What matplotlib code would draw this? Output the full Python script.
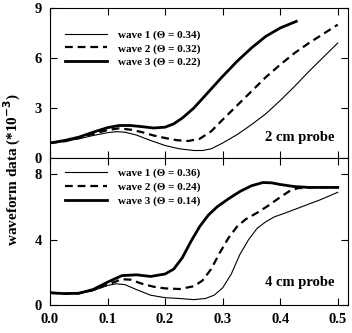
import numpy as np
import matplotlib
matplotlib.use("Agg")
import matplotlib.pyplot as plt

plt.rcParams['font.family'] = ['Liberation Serif', 'DejaVu Serif']
plt.rcParams['font.weight'] = 'bold'
plt.rcParams['mathtext.default'] = 'bf'

# 2 cm probe
top_x1 = [0, 0.025, 0.05, 0.075, 0.1, 0.115, 0.13, 0.15, 0.175, 0.2, 0.225, 0.25,
          0.265, 0.28, 0.3, 0.325, 0.35, 0.375, 0.4, 0.425, 0.45, 0.475, 0.5]
top_w1 = [0.9, 1.0, 1.15, 1.35, 1.52, 1.58, 1.55, 1.38, 1.05, 0.75, 0.55, 0.45,
          0.45, 0.55, 0.9, 1.4, 2.0, 2.65, 3.45, 4.3, 5.2, 6.05, 6.9]
top_x2 = [0, 0.025, 0.05, 0.075, 0.1, 0.12, 0.14, 0.16, 0.18, 0.2, 0.22, 0.24,
          0.26, 0.28, 0.3, 0.325, 0.35, 0.375, 0.4, 0.425, 0.45, 0.475, 0.5]
top_w2 = [0.9, 1.0, 1.2, 1.45, 1.68, 1.78, 1.7, 1.55, 1.35, 1.2, 1.07, 1.02,
          1.15, 1.6, 2.3, 3.15, 4.0, 4.85, 5.6, 6.3, 6.9, 7.45, 8.0]
top_x3 = [0, 0.025, 0.05, 0.075, 0.1, 0.12, 0.14, 0.16, 0.18, 0.2, 0.215, 0.23,
          0.25, 0.275, 0.3, 0.325, 0.35, 0.375, 0.4, 0.428]
top_w3 = [0.9, 1.05, 1.25, 1.55, 1.82, 1.95, 1.95, 1.88, 1.8, 1.85, 2.05, 2.4,
          3.0, 3.95, 4.9, 5.8, 6.6, 7.3, 7.8, 8.2]
top_labels = ['wave 1 (Θ = 0.34)', 'wave 2 (Θ = 0.32)', 'wave 3 (Θ = 0.22)']

# 4 cm probe
bot_x1 = [0, 0.025, 0.05, 0.075, 0.1, 0.115, 0.13, 0.15, 0.175, 0.2, 0.225, 0.25,
          0.27, 0.285, 0.3, 0.315, 0.33, 0.345, 0.36, 0.375, 0.39, 0.41, 0.44,
          0.47, 0.5]
bot_w1 = [0.75, 0.7, 0.7, 0.88, 1.2, 1.3, 1.25, 0.95, 0.6, 0.45, 0.4, 0.33,
          0.4, 0.6, 1.05, 1.9, 3.1, 4.0, 4.7, 5.1, 5.4, 5.65, 6.05, 6.45, 6.9]
bot_x2 = [0, 0.025, 0.05, 0.075, 0.1, 0.125, 0.14, 0.16, 0.18, 0.2, 0.225, 0.25,
          0.265, 0.28, 0.295, 0.31, 0.325, 0.34, 0.36, 0.38, 0.4, 0.415, 0.43,
          0.45, 0.5]
bot_w2 = [0.75, 0.7, 0.72, 0.92, 1.25, 1.58, 1.55, 1.3, 1.12, 1.02, 0.98, 1.15,
          1.5, 2.2, 3.2, 4.1, 4.8, 5.25, 5.65, 6.1, 6.6, 6.95, 7.15, 7.2, 7.2]
bot_x3 = [0, 0.025, 0.05, 0.075, 0.1, 0.125, 0.15, 0.175, 0.2, 0.215, 0.23, 0.245,
          0.26, 0.275, 0.29, 0.31, 0.33, 0.35, 0.37, 0.385, 0.4, 0.425, 0.45, 0.5]
bot_w3 = [0.75, 0.7, 0.72, 0.95, 1.4, 1.8, 1.85, 1.75, 1.9, 2.2, 2.9, 3.9,
          4.8, 5.5, 6.0, 6.5, 6.95, 7.3, 7.5, 7.48, 7.38, 7.25, 7.2, 7.2]
bot_labels = ['wave 1 (Θ = 0.36)', 'wave 2 (Θ = 0.24)', 'wave 3 (Θ = 0.14)']

styles = [dict(color='black', lw=0.8, ls='-'),
          dict(color='black', lw=1.6, ls=(0, (3.5, 2.2))),
          dict(color='black', lw=2.0, ls='-')]

fig = plt.figure(figsize=(3.52, 3.33), dpi=100)
ax1 = fig.add_axes([0.142, 0.5255, 0.847, 0.4505])
ax2 = fig.add_axes([0.142, 0.084, 0.847, 0.4415])

panels = [
    (ax1, [(top_x1, top_w1), (top_x2, top_w2), (top_x3, top_w3)], top_labels,
     [0, 3, 6, 9], '2 cm probe', 0.915, 0.14),
    (ax2, [(bot_x1, bot_w1), (bot_x2, bot_w2), (bot_x3, bot_w3)], bot_labels,
     [0, 4, 8], '4 cm probe', 0.99, 0.155),
]

for ax, waves, labels, yt, probe, leg_y, probe_y in panels:
    for (xs, w), lab, st in zip(waves, labels, styles):
        ax.plot(xs, w, label=lab, **st)
    ax.set_xlim(0, 0.518)
    ax.set_ylim(0, 9)
    ax.set_yticks(yt)
    ax.set_xticks([0.0, 0.1, 0.2, 0.3, 0.4, 0.5])
    ax.tick_params(direction='in', top=True, right=True, length=5, width=0.8,
                   labelsize=10.5, pad=6)
    for s in ax.spines.values():
        s.set_linewidth(0.8)
    ax.legend(loc='upper left', frameon=False, fontsize=8, handlelength=3.8,
              labelspacing=0.35, handletextpad=1.0, borderaxespad=0.4,
              bbox_to_anchor=(0.02, leg_y))
    ax.text(0.955, probe_y, probe, transform=ax.transAxes, ha='right',
            va='center', fontsize=10.5, fontweight='bold')

ax1.tick_params(labelbottom=False)
ax2.set_xticklabels(['0.0', '0.1', '0.2', '0.3', '0.4', '0.5'])
for lab in ax1.get_yticklabels() + ax2.get_yticklabels() + ax2.get_xticklabels():
    lab.set_fontweight('bold')

fig.text(0.035, 0.49, 'waveform data (*10$^{-3}$)', rotation=90,
         ha='center', va='center', fontsize=11, fontweight='bold')

fig.savefig('out.png', dpi=100)
